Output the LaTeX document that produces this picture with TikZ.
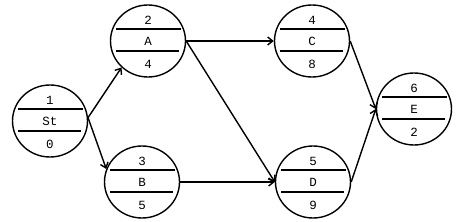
\documentclass[tikz,border=0pt]{standalone}
\usepackage{fontspec}
\setmonofont{Liberation Mono}
\usetikzlibrary{arrows.meta,shapes.geometric}
\tikzset{
  ev/.style={draw, ellipse, line width=1.4pt, minimum width=75pt, minimum height=72pt, inner sep=0pt},
  sep/.style={line width=1.7pt},
  lbl/.style={font=\ttfamily\fontsize{12.5}{12.5}\selectfont, inner sep=0pt},
  arr/.style={line width=1.4pt, -{Straight Barb[length=5pt,width=8pt]}}
}
\newcommand\evnode[6]{%
  \node[ev] (#1) at (#2,#3) {};
  \draw[sep] (#2-32,#3-12) -- (#2+33,#3-12);
  \draw[sep] (#2-32,#3+10) -- (#2+31,#3+10);
  \node[lbl] (#1t) at (#2,#3-21) {#4};
  \node[lbl] (#1m) at (#2,#3) {#5};
  \node[lbl] (#1b) at (#2,#3+23) {#6};
}
\begin{document}
\begin{tikzpicture}[x=1pt,y=-1pt]
  \useasboundingbox (0,0) rectangle (461,222);
  \evnode{St}{50}{121}{1}{St}{0}
  \evnode{A}{148}{41}{2}{A}{4}
  \evnode{C}{312}{41}{4}{C}{8}
  \evnode{B}{142}{182}{3}{B}{5}
  \evnode{D}{313}{182}{5}{D}{9}
  \evnode{E}{414}{109}{6}{E}{2}
  \draw[arr] (St.5) -- (A.225);
  \draw[arr] (St.5) -- (B.160);
  \draw[arr] (A.east) -- (C.west);
  \draw[arr] (A.east) -- (D.west);
  \draw[arr] (B.east) -- (D.west);
  \draw[arr] (C.east) -- (E.west);
  \draw[arr] (D.east) -- (E.west);
\end{tikzpicture}
\end{document}
